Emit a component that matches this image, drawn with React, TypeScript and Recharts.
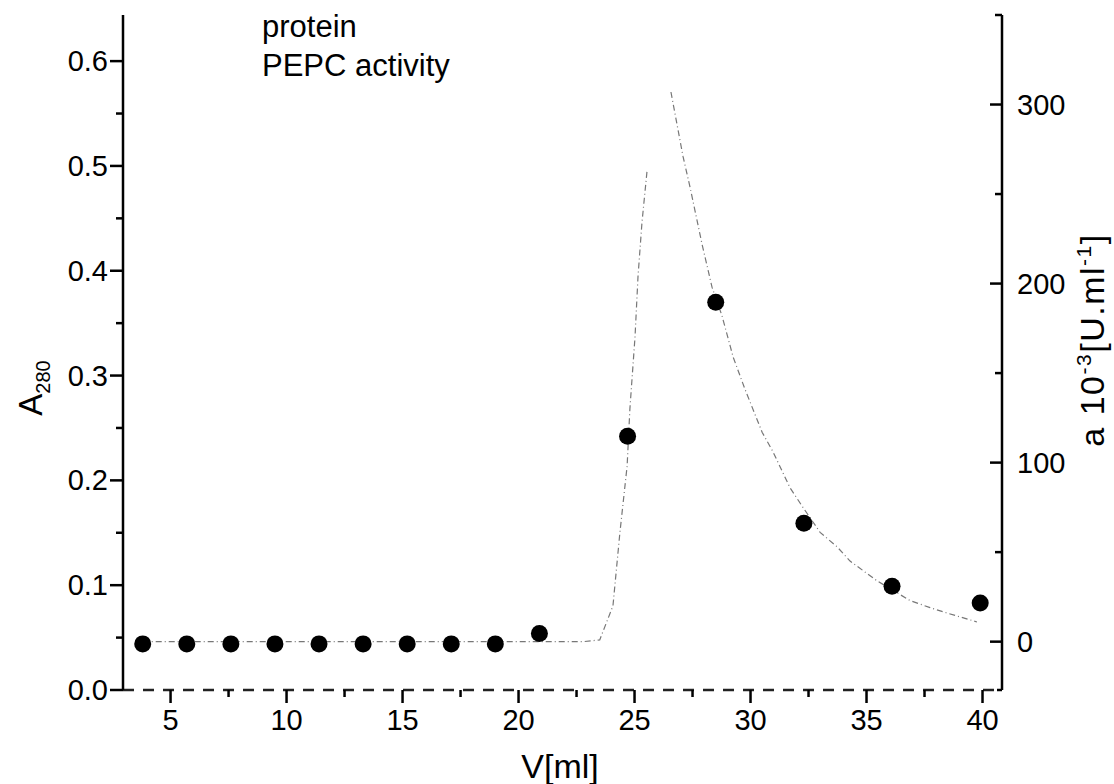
import React from 'react'
import { ComposedChart, Line, Scatter, XAxis, YAxis } from 'recharts'

// fractions: elution volume vs. protein absorbance (points, left axis)
const fractionVolume = [3.8, 5.7, 7.6, 9.5, 11.4, 13.3, 15.2, 17.1, 19.0, 20.9, 24.7, 28.5, 32.3, 36.1, 39.9]
const proteinA280 = [0.044, 0.044, 0.044, 0.044, 0.044, 0.044, 0.044, 0.044, 0.044, 0.054, 0.242, 0.37, 0.159, 0.099, 0.083]

// PEPC activity trace (right axis), null = gap in the printed line
const activityVolume = [
  3.8, 5.7, 7.6, 9.5, 11.4, 13.3, 15.2, 17.1, 19.0, 20.9, 22.8, 23.5, 24.07, 24.37, 24.68, 24.8, 25.02, 25.15,
  25.32, 25.54, 26.05, 26.57, 26.83, 27.09, 27.39, 27.91, 28.34, 28.77, 29.25, 29.76, 30.5, 30.97, 31.7, 32.26,
  33.0, 33.73, 34.29, 35.45, 36.87, 37.74, 38.47, 39.76
]
const activityValue: (number | null)[] = [
  0, 0, 0, 0, 0, 0, 0, 0, 0, 0, 0, 1, 20, 61, 98, 130, 170, 204,
  234, 263, null, 307, 289, 271, 254, 222, 198, 182, 159, 141, 117, 106, 86, 75,
  61, 53, 45, 34, 23, 19, 16, 11
]

const xTicks = [5, 7.5, 10, 12.5, 15, 17.5, 20, 22.5, 25, 27.5, 30, 32.5, 35, 37.5, 40]
const leftTicks = [0, 0.05, 0.1, 0.15, 0.2, 0.25, 0.3, 0.35, 0.4, 0.45, 0.5, 0.55, 0.6]
const rightTicks = [-27, 0, 50, 100, 150, 200, 250, 300, 350]

const legendLabels = ['protein', 'PEPC activity']

const FONT = '"Liberation Sans", Arial, sans-serif'
const TICK_FONT = 29

const scatterData = fractionVolume.map((x, i) => ({ x, a: proteinA280[i] }))
const lineData = activityVolume.map((x, i) => ({ x, v: activityValue[i] }))

interface TickProps {
  x?: number
  y?: number
  payload?: { value: number }
}

function BottomTick({ x = 0, y = 0, payload }: TickProps) {
  const v = payload ? payload.value : 0
  const major = v % 5 === 0
  return (
    <g>
      <line x1={x} x2={x} y1={y} y2={y + (major ? 13 : 7)} stroke="#000" strokeWidth={2.5} />
      {major && (
        <text x={x} y={y + 40} textAnchor="middle" fontFamily={FONT} fontSize={TICK_FONT} fill="#000">
          {v}
        </text>
      )}
    </g>
  )
}

function LeftTick({ x = 0, y = 0, payload }: TickProps) {
  const v = payload ? payload.value : 0
  const major = Math.abs(v * 10 - Math.round(v * 10)) < 1e-6
  return (
    <g>
      <line x1={x} x2={x - (major ? 13 : 7)} y1={y} y2={y} stroke="#000" strokeWidth={2.5} />
      {major && (
        <text x={x - 15} y={y + 10} textAnchor="end" fontFamily={FONT} fontSize={TICK_FONT} fill="#000">
          {v.toFixed(1)}
        </text>
      )}
    </g>
  )
}

function RightTick({ x = 0, y = 0, payload }: TickProps) {
  const v = payload ? payload.value : 0
  const major = v % 100 === 0
  const len = major ? 12 : v % 50 === 0 ? 7 : 5
  return (
    <g>
      <line x1={x} x2={x - len} y1={y} y2={y} stroke="#000" strokeWidth={2.5} />
      {major && (
        <text x={x + 15} y={y + 10} textAnchor="start" fontFamily={FONT} fontSize={TICK_FONT} fill="#000">
          {v}
        </text>
      )}
    </g>
  )
}

function LeftLabel() {
  return (
    <text transform="translate(42, 388) rotate(-90)" textAnchor="middle" fontFamily={FONT} fontSize={33} fill="#000">
      <tspan>A</tspan>
      <tspan fontSize={20} dy={8}>280</tspan>
    </text>
  )
}

function RightLabel() {
  return (
    <text
      transform="translate(1104, 340) rotate(-90)"
      textAnchor="middle"
      fontFamily={FONT}
      fontSize={34}
      letterSpacing={1.5}
      fill="#000"
    >
      <tspan>a 10</tspan>
      <tspan fontSize={21} dy={-13}>-3</tspan>
      <tspan dy={13}>[U.ml</tspan>
      <tspan fontSize={21} dy={-13}>-1</tspan>
      <tspan dy={13}>]</tspan>
    </text>
  )
}

function BottomLabel() {
  return (
    <text x={560} y={778} textAnchor="middle" fontFamily={FONT} fontSize={34} fill="#000">
      V[ml]
    </text>
  )
}

export default function App() {
  return (
    <div style={{ position: 'absolute', left: 0, top: 0, width: 1114, height: 784, background: '#fff' }}>
      <ComposedChart width={1114} height={784} margin={{ top: 15, right: 0, left: 0, bottom: 0 }}>
        <XAxis
          dataKey="x"
          type="number"
          domain={[2.95, 40.84]}
          ticks={xTicks}
          interval={0}
          allowDataOverflow
          height={94}
          tickSize={0}
          tickMargin={0}
          tickLine={false}
          tick={<BottomTick />}
          axisLine={{ stroke: '#222', strokeWidth: 2.5, strokeDasharray: '11 9' }}
          label={<BottomLabel />}
        />
        <YAxis
          yAxisId="left"
          orientation="left"
          width={123}
          domain={[0, 0.644]}
          ticks={leftTicks}
          interval={0}
          allowDataOverflow
          tickSize={0}
          tickMargin={0}
          tickLine={false}
          tick={<LeftTick />}
          axisLine={{ stroke: '#000', strokeWidth: 2.5 }}
          label={<LeftLabel />}
        />
        <YAxis
          yAxisId="right"
          orientation="right"
          width={112}
          domain={[-27, 350]}
          ticks={rightTicks}
          interval={0}
          allowDataOverflow
          tickSize={0}
          tickMargin={0}
          tickLine={false}
          tick={<RightTick />}
          axisLine={{ stroke: '#000', strokeWidth: 2.5 }}
          label={<RightLabel />}
        />
        <Line
          yAxisId="right"
          data={lineData}
          dataKey="v"
          type="linear"
          stroke="#777"
          strokeWidth={1.2}
          strokeDasharray="6 3 1 3"
          dot={false}
          activeDot={false}
          connectNulls={false}
          isAnimationActive={false}
        />
        <Scatter
          yAxisId="left"
          data={scatterData}
          dataKey="a"
          fill="#000"
          shape={(p: { cx?: number; cy?: number }) => <circle cx={p.cx} cy={p.cy} r={8.5} fill="#000" />}
          isAnimationActive={false}
        />
      </ComposedChart>
      <svg width={1114} height={784} style={{ position: 'absolute', left: 0, top: 0, pointerEvents: 'none' }}>
        {legendLabels.map((t, i) => (
          <text key={t} x={262} y={37 + i * 39} fontFamily={FONT} fontSize={31} fill="#000">
            {t}
          </text>
        ))}
      </svg>
    </div>
  )
}
